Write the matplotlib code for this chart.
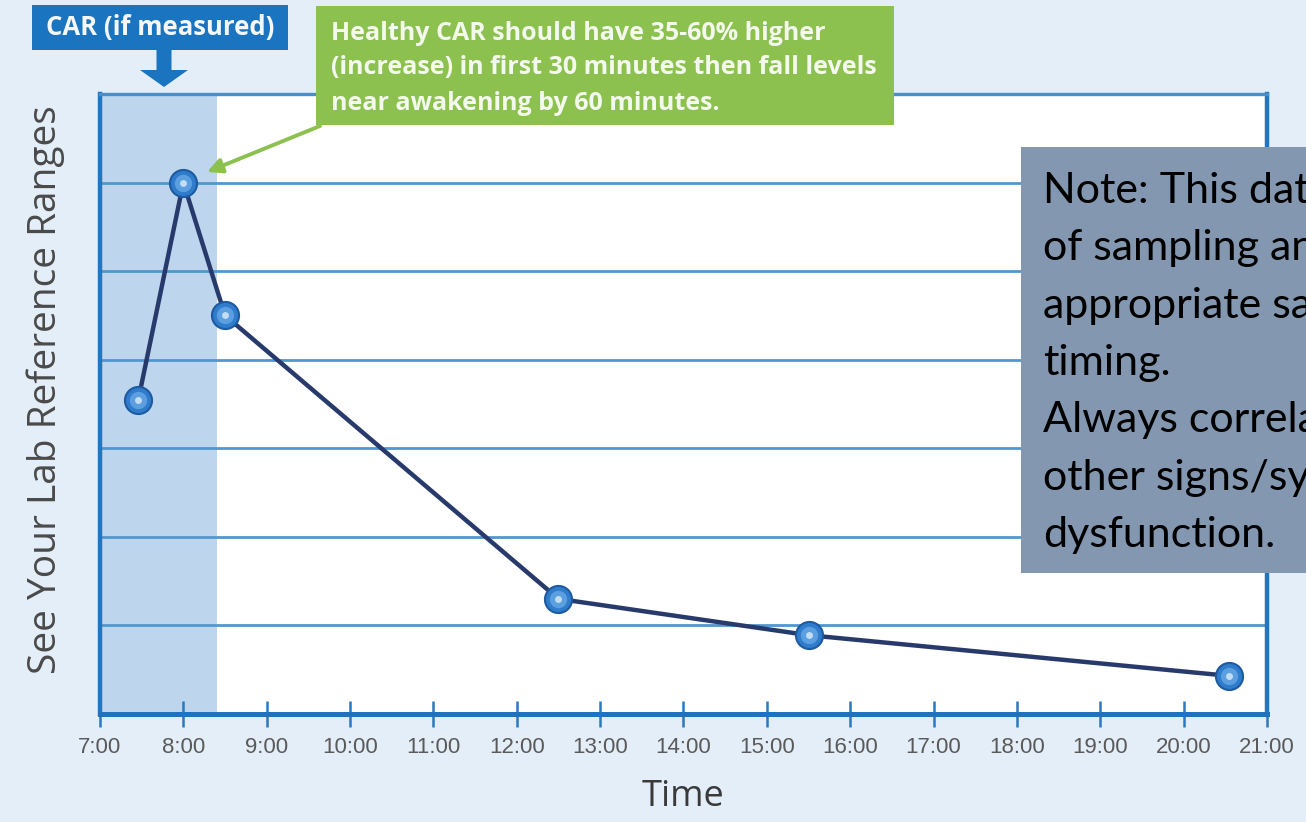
import matplotlib
matplotlib.use("Agg")
import matplotlib.pyplot as plt
from matplotlib.patches import Rectangle, FancyArrow, FancyArrowPatch

# ---------------- data ----------------
times = [7.46, 8.0, 8.5, 12.5, 15.5, 20.55]
levels = [3.55, 6.0, 4.5, 1.3, 0.89, 0.43]
tick_hours = list(range(7, 22))
tick_labels = ["7:00", "8:00", "9:00", "10:00", "11:00", "12:00", "13:00", "14:00",
               "15:00", "16:00", "17:00", "18:00", "19:00", "20:00", "21:00"]
grid_levels = [1, 2, 3, 4, 5, 6]
car_window = (7.0, 8.4)
x_label = "Time"
y_label = "See Your Lab Reference Ranges"
car_title = "CAR (if measured)"
green_lines = ["Healthy CAR should have 35-60% higher",
               "(increase) in first 30 minutes then fall levels",
               "near awakening by 60 minutes."]
note_lines = ["Note: This data is a representation",
              "of sampling and the need for",
              "appropriate sample collection",
              "timing.",
              "Always correlate results with",
              "other signs/symptoms of adrenal",
              "dysfunction."]

# ---------------- figure ----------------
W, H = 1306, 822
fig = plt.figure(figsize=(W / 100, H / 100), dpi=100)
fig.patch.set_facecolor("#e4eef8")

def P(x, y):
    """pixel (top-left origin) -> inches for dpi_scale_trans"""
    return (x / 100.0, (H - y) / 100.0)

ax_l, ax_r, ax_t, ax_b = 100, 1267, 94, 714
ax = fig.add_axes([ax_l / W, 1 - ax_b / H, (ax_r - ax_l) / W, (ax_b - ax_t) / H])
ax.set_facecolor("white")
ax.set_xlim(7, 21)
ax.set_ylim(0, 7)

ax.axvspan(car_window[0], car_window[1], color="#bdd6ee", zorder=0, lw=0)
for g in grid_levels:
    ax.axhline(g, color="#5197cf", lw=2.0, zorder=1)

ax.plot(times, levels, color="#283a6c", lw=3.2, zorder=3, solid_joinstyle="round")
ax.plot(times, levels, ls="none", marker="o", ms=19.5, mfc="#2f7bcc", mec="#1d5a9f", mew=1.5, zorder=4)
ax.plot(times, levels, ls="none", marker="o", ms=12.5, mfc="#5c9fe0", mec="none", zorder=5)
ax.plot(times, levels, ls="none", marker="o", ms=5, mfc="#c2dcf4", mec="none", zorder=6)

ax.set_xticks(tick_hours)
ax.set_xticklabels(tick_labels)
ax.set_yticks([])
ax.tick_params(axis="x", direction="inout", length=19, width=1.8, color="#2a78c0",
               labelsize=16, labelcolor="#5a5a5a", pad=7)
for lab in ax.get_xticklabels():
    lab.set_family(["Liberation Sans", "DejaVu Sans"])

for side in ["left", "right"]:
    ax.spines[side].set_color("#1f77c4")
    ax.spines[side].set_linewidth(3.2)
ax.spines["bottom"].set_color("#1f72bb")
ax.spines["bottom"].set_linewidth(3.6)
ax.spines["top"].set_color("#4a8ec8")
ax.spines["top"].set_linewidth(2.4)

ax.set_xlabel(x_label, fontsize=26, color="#3a3a3a", family=["Open Sans", "DejaVu Sans"])
ax.xaxis.set_label_coords(0.5, (ax_b - 797) / (ax_b - ax_t))
ax.xaxis.label.set_va("center")
ax.set_ylabel(y_label, fontsize=28, color="#4a4a4a", family=["Open Sans", "DejaVu Sans"])
ax.yaxis.set_label_coords((46 - ax_l) / (ax_r - ax_l), (ax_b - 390) / (ax_b - ax_t))
ax.yaxis.label.set_va("center")

tr = fig.dpi_scale_trans

# CAR box + arrow
x0, y0 = P(32, 50)
fig.add_artist(Rectangle((x0, y0), 256 / 100, 45 / 100, transform=tr, color="#1b74bf", lw=0, zorder=5))
fig.text(160 / W, 1 - 28 / H, car_title, ha="center", va="center",
         color="#f4f8fc", fontsize=18.5, fontweight="bold", family=["Open Sans", "DejaVu Sans"], zorder=6)
ax0, ay0 = P(164, 49)
fig.add_artist(FancyArrow(ax0, ay0, 0, -0.38, width=0.15, head_width=0.48, head_length=0.17,
                          length_includes_head=True, transform=tr, color="#1b74bf", lw=0, zorder=5))

# Green box + arrow
gx, gy = P(316, 125)
fig.add_artist(Rectangle((gx, gy), 578 / 100, 119 / 100, transform=tr, color="#8cc150", lw=0, zorder=5))
for i, line in enumerate(green_lines):
    fig.text(331 / W, 1 - (33 + i * 35) / H, line, ha="left", va="center", color="#f4f9ee",
             fontsize=18, fontweight="bold", family=["Open Sans", "DejaVu Sans"], zorder=6)
fig.add_artist(FancyArrowPatch(P(320, 126), P(207, 172), arrowstyle="-|>", mutation_scale=22,
                               lw=2.8, color="#8cc150", transform=tr, zorder=5,
                               shrinkA=0, shrinkB=0))

# Note box (text runs past the right edge of the picture, as in the original)
nx, ny = P(1021, 573)
fig.add_artist(Rectangle((nx, ny), 300 / 100, 426 / 100, transform=tr, color="#8497b0", lw=0, zorder=7))
for i, line in enumerate(note_lines):
    fig.text(1043 / W, 1 - (203 + i * 57.3) / H, line, ha="left", va="baseline", color="black",
             fontsize=31, family=["Lato", "DejaVu Sans"], zorder=8)

fig.savefig("out.png", dpi=100, facecolor=fig.get_facecolor())
